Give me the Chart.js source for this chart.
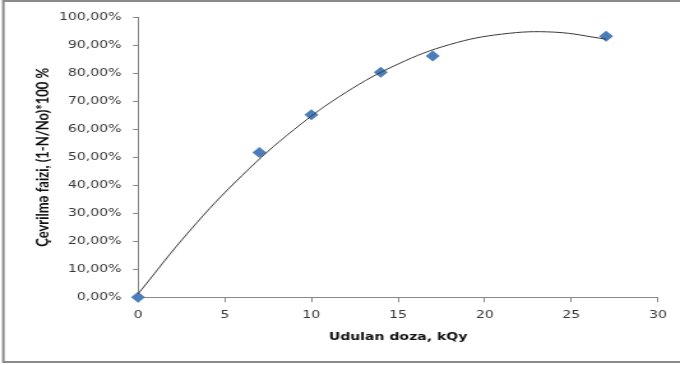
<!DOCTYPE html>
<html>
<head>
<meta charset="utf-8">
<script src="https://cdn.jsdelivr.net/npm/chart.js@4/dist/chart.umd.min.js"></script>
<style>
  html, body { margin: 0; padding: 0; background: #fff; overflow: hidden; }
  #wrap { width: 533px; height: 365px; transform: scaleX(1.2758); transform-origin: 0 0; }
  canvas { display: block; }
</style>
</head>
<body>
<div id="wrap"><canvas id="c" width="533" height="365"></canvas></div>
<script>
// Measured points: absorbed dose (kGy) vs conversion (%)
const doses = [0, 7, 10, 14, 17, 27];
const conversion = [0, 51.7, 65.2, 80.4, 86.2, 93.2];

// Polynomial trend curve, sampled along the dose range
const trendDose = [0, 3, 6, 9, 12, 15, 18, 21, 24, 27];
const trendConversion = [1.2, 23.9, 43.5, 59.9, 73.2, 83.3, 90.3, 94.0, 94.7, 92.2];

const xTitle = 'Udulan doza, kQy';
const yTitle = 'Çevrilmə faizi, (1-N/No)*100 %';

const axisColor = '#878787';
const tickFont = { family: 'DejaVu Sans', size: 11 };
const xTitleFont = { family: 'DejaVu Sans', size: 11, weight: 'bold' };
const yTitleFont = { family: 'Lato', size: 13, weight: 'bold' };

const frame = {
  id: 'frame',
  beforeDraw(chart) {
    const ctx = chart.ctx;
    ctx.save();
    ctx.fillStyle = '#fff';
    ctx.fillRect(0, 0, chart.width, chart.height);
    ctx.strokeStyle = '#8a8a8a';
    ctx.lineWidth = 2;
    ctx.strokeRect(2.6, 1, chart.width + 20, 361);
    ctx.restore();
  }
};

new Chart(document.getElementById('c'), {
  type: 'scatter',
  data: {
    datasets: [
      {
        data: trendDose.map((x, i) => ({ x, y: trendConversion[i] })),
        showLine: true,
        borderColor: '#3a3a3a',
        borderWidth: 1,
        pointRadius: 0,
        tension: 0.4,
        fill: false
      },
      {
        data: doses.map((x, i) => ({ x, y: conversion[i] })),
        pointStyle: 'rectRot',
        pointRadius: 5.5,
        backgroundColor: '#4a7ebb',
        borderColor: '#4a7ebb',
        borderWidth: 0,
        clip: false
      }
    ]
  },
  options: {
    responsive: false,
    animation: false,
    layout: { padding: { left: 0, top: 17.3, right: 17.2, bottom: 0 } },
    plugins: { legend: { display: false }, tooltip: { enabled: false } },
    scales: {
      x: {
        type: 'linear',
        min: 0,
        max: 30,
        ticks: { stepSize: 5, font: tickFont, color: '#383838', padding: 6 },
        grid: { drawOnChartArea: false, drawTicks: true, tickLength: 5, color: axisColor },
        border: { color: axisColor, width: 1 },
        title: { display: true, text: xTitle, font: xTitleFont, color: '#111', padding: { top: 0, bottom: 21 } },
        afterFit: s => { s.height = 67.7; }
      },
      y: {
        min: 0,
        max: 100,
        ticks: {
          stepSize: 10,
          font: tickFont,
          color: '#383838',
          padding: 9,
          callback: v => v.toFixed(2).replace('.', ',') + '%'
        },
        grid: { drawOnChartArea: false, drawTicks: true, tickLength: 4, color: axisColor },
        border: { color: axisColor, width: 1 },
        title: { display: true, text: yTitle, font: yTitleFont, color: '#111', padding: { top: 26.5, bottom: 0 } },
        afterFit: s => { s.width = 108.2; }
      }
    }
  },
  plugins: [frame]
});
</script>
</body>
</html>
